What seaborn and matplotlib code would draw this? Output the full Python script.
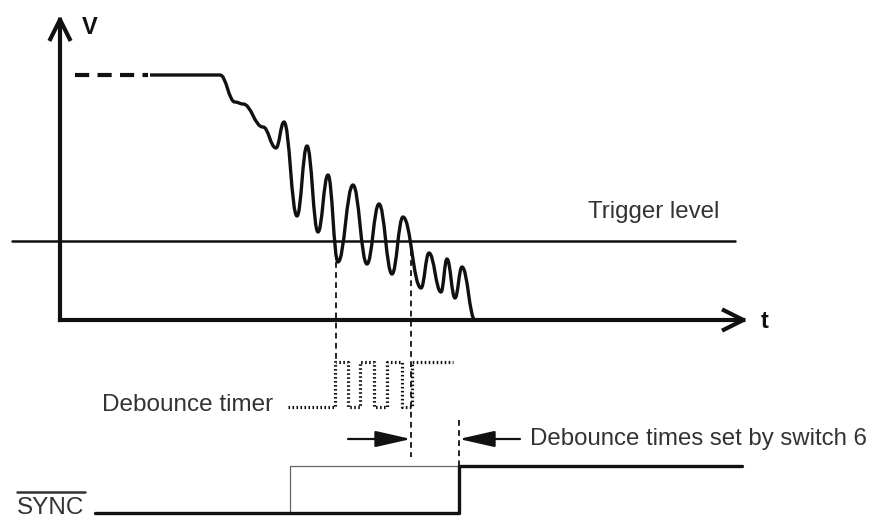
'''switch debounce timing diagram'''
import seaborn as sns
import matplotlib.pyplot as plt
from matplotlib.path import Path
from matplotlib.patches import PathPatch

sns.set_theme(style='white')
plt.rcParams['font.family'] = ['Liberation Sans', 'DejaVu Sans']

INK = '#111111'
TEXT = '#333333'

# input voltage: origin at the axes corner, turning points of the bounce
lead_t = [15, 88]
lead_v = [245, 245]
wave_t = [90, 160, 175, 183, 203, 216, 224, 237, 247, 258, 268, 278, 293, 307,
          319, 332, 343, 361, 369, 381, 387, 395, 402, 415]
wave_v = [245, 245, 218, 216, 193, 172, 198, 104, 174, 88, 145, 58, 135, 56,
          116, 46, 103, 32, 67, 28, 61, 22, 53, 0]
trigger_v = 79
trigger_span = [-48, 675]

# debounce timer (dotted), low/high levels
timer_t = [228, 275, 288, 300, 314, 327, 342, 352, 393]
timer_state = [0, 1, 0, 1, 0, 1, 0, 1, 1]
timer_lo, timer_hi = -87, -42

# SYNC output
sync_t = [35, 399, 399, 682]
sync_v = [-193, -193, -146, -146]
sync_thin_t = [230, 230, 399]
sync_thin_v = [-193, -146, -146]

# marker lines
mark_t = [276, 351, 399]
mark_from = [58, 70, -100]
mark_to = [-42, -137, -146]
arrow_v = -119


def smooth_path(ts, vs, k=0.42):
    '''bezier through turning points, flat tangent at each one'''
    verts = [(ts[0], vs[0])]
    codes = [Path.MOVETO]
    for (t0, v0), (t1, v1) in zip(zip(ts[:-1], vs[:-1]), zip(ts[1:], vs[1:])):
        dt = t1 - t0
        verts += [(t0 + k * dt, v0), (t1 - k * dt, v1), (t1, v1)]
        codes += [Path.CURVE4] * 3
    return Path(verts, codes)


fig = plt.figure(figsize=(8.79, 5.19), dpi=100)
ax = fig.add_axes([0, 0, 1, 1])
ax.set_xlim(-60, 819)
ax.set_ylim(-199, 320)
ax.axis('off')

# axes with open arrow heads
head = dict(arrowstyle='->,head_length=0.7,head_width=0.35', lw=3, color=INK,
            mutation_scale=20, shrinkA=0, shrinkB=0, capstyle='projecting')
ax.annotate('', xy=(0, 305), xytext=(0, 0), arrowprops=head)
ax.annotate('', xy=(688, 0), xytext=(0, 0), arrowprops=head)
ax.text(30, 292, 'V', fontsize=17, fontweight='bold', color=INK, ha='center', va='center')
ax.text(705, -1, 't', fontsize=17, fontweight='bold', color=INK, ha='center', va='center')

# trigger level
sns.lineplot(x=trigger_span, y=[trigger_v, trigger_v], color=INK, lw=1.8, ax=ax)
ax.text(528, 108, 'Trigger level', fontsize=17.3, color=TEXT, ha='left', va='center')

# waveform
ax.plot(lead_t, lead_v, color=INK, lw=3, dashes=(3.4, 2.0), solid_capstyle='butt')
ax.add_patch(PathPatch(smooth_path(wave_t, wave_v), fill=False, lw=2.4,
                       edgecolor=INK, capstyle='butt', joinstyle='round'))

# vertical marker lines
for t, a, b in zip(mark_t, mark_from, mark_to):
    ax.plot([t, t], [a, b], color=INK, lw=1.3, dashes=(3.2, 2.4))

# debounce timer
timer_v = [timer_hi if s else timer_lo for s in timer_state]
sns.lineplot(x=timer_t, y=timer_v, drawstyle='steps-post', sort=False, estimator=None,
             color=INK, lw=2.3, dashes=False, ax=ax)
ax.lines[-1].set_dashes((0.5, 0.75))
ax.text(42, -85, 'Debounce timer', fontsize=17.5, color=TEXT, ha='left', va='center')

# debounce time arrows
solid = dict(arrowstyle='-|>,head_length=1.1,head_width=0.25', lw=1.6, color=INK,
             mutation_scale=20, shrinkA=0, shrinkB=0)
ax.annotate('', xy=(mark_t[1], arrow_v), xytext=(288, arrow_v), arrowprops=solid)
ax.annotate('', xy=(mark_t[2], arrow_v), xytext=(460, arrow_v), arrowprops=solid)
ax.text(470, arrow_v, 'Debounce times set by switch 6', fontsize=17.3, color=TEXT,
        ha='left', va='center')

# SYNC output
sns.lineplot(x=sync_thin_t, y=sync_thin_v, sort=False, estimator=None,
             color='#666666', lw=0.9, ax=ax)
sns.lineplot(x=sync_t, y=sync_v, sort=False, estimator=None,
             color=INK, lw=2.4, ax=ax)
ax.text(-43, -194, 'SYNC', fontsize=17.5, color=TEXT, ha='left', va='baseline')
ax.plot([-43, 25], [-172, -172], color=TEXT, lw=1.8)

fig.savefig('out.png', dpi=100)
